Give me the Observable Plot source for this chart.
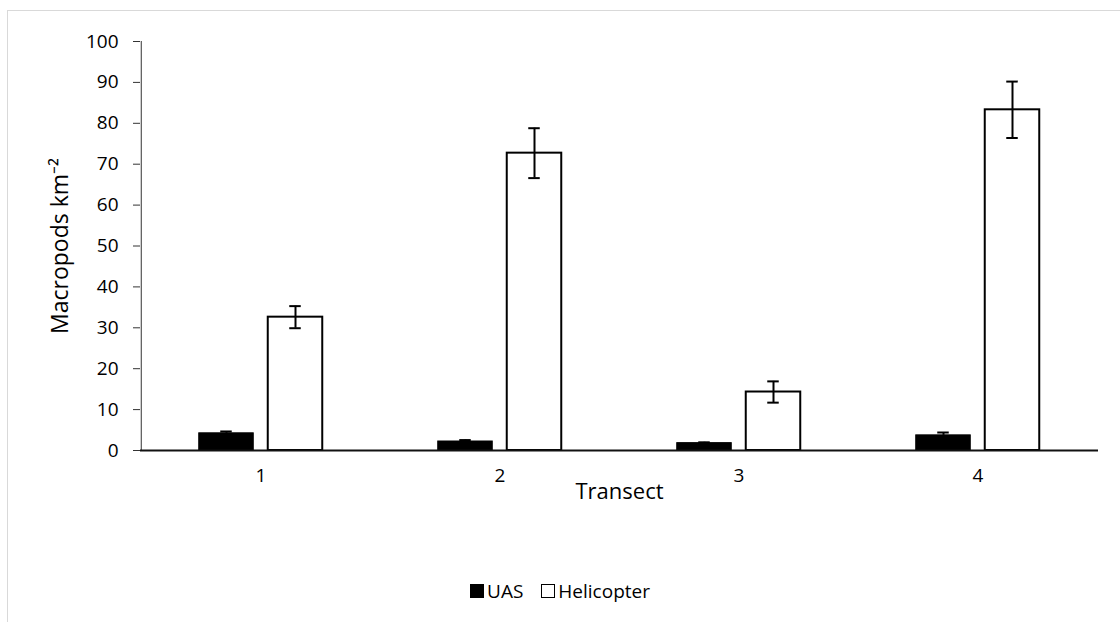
<!DOCTYPE html>
<html>
<head>
<meta charset="utf-8">
<script src="https://cdn.jsdelivr.net/npm/d3@7"></script>
<script src="https://cdn.jsdelivr.net/npm/@observablehq/plot@0.6"></script>
<style>
  body { margin: 0; background: #fff; }
  #wrap { position: relative; width: 1120px; height: 622px; overflow: hidden; font-family: "Open Sans", sans-serif; }
  #border { position: absolute; left: 7px; top: 10px; width: 1300px; height: 800px; border: 1px solid #d9d9d9; box-sizing: border-box; }
  #chart { position: absolute; left: 0; top: 0; }
  #legend { position: absolute; left: 0; width: 1120px; top: 578px; display: flex; justify-content: center; align-items: center; font-size: 19px; color: #000; }
  .item { display: flex; align-items: center; margin: 0 9px; }
  .sw { width: 14px; height: 14px; box-sizing: border-box; margin-right: 3px; border: 1px solid #000; }
</style>
</head>
<body>
<div id="wrap">
  <div id="border"></div>
  <div id="chart"></div>
  <div id="legend"></div>
</div>
<script>
// Data
const transects = ["1", "2", "3", "4"];
const series = ["UAS", "Helicopter"];
const uasValues = [4.2, 2.2, 1.8, 3.7];
const uasErrors = [0.45, 0.35, 0.2, 0.7];
const heliValues = [32.6, 72.7, 14.3, 83.3];
const heliErrors = [2.7, 6.1, 2.6, 6.9];
const yTicks = [0, 10, 20, 30, 40, 50, 60, 70, 80, 90, 100];

const uasData = transects.map((t, i) => ({transect: t, value: uasValues[i], err: uasErrors[i]}));
const heliData = transects.map((t, i) => ({transect: t, value: heliValues[i], err: heliErrors[i]}));

// Layout
const W = 1120, H = 525;
const mL = 140, mR = 22, mT = 41, mB = H - 450;
const bw = (W - mL - mR) / transects.length; // band width
const barW = 55, gap = 14;
const uasC = bw / 2 - (barW + gap) / 2;   // centre of UAS bar inside band
const heliC = bw / 2 + (barW + gap) / 2;  // centre of Helicopter bar
const capW = 12;

const chart = Plot.plot({
  width: W,
  height: H,
  marginLeft: mL,
  marginRight: mR,
  marginTop: mT,
  marginBottom: mB,
  style: {fontFamily: "'Open Sans', sans-serif", fontSize: "19px", color: "#000", background: "transparent"},
  x: {domain: transects, padding: 0, label: null},
  y: {domain: [0, 100], label: null},
  marks: [
    Plot.axisY({ticks: yTicks, tickSize: 7, tickPadding: 15, label: null, stroke: "#333", fontSize: 19, fill: "#000"}),
    Plot.axisX({tickSize: 0, tickPadding: 18, label: null, fontSize: 19, fill: "#000"}),
    // y axis line
    Plot.ruleX(["1"], {x: d => d, y1: 0, y2: 100, dx: -bw / 2, stroke: "#333", strokeWidth: 1}),
    // bars
    Plot.barY(uasData, {x: "transect", y: "value", fill: "#000", stroke: "#000", strokeWidth: 1,
      insetLeft: uasC - barW / 2, insetRight: bw - (uasC + barW / 2)}),
    Plot.barY(heliData, {x: "transect", y: "value", fill: "#fff", stroke: "#000", strokeWidth: 2,
      insetLeft: heliC - barW / 2, insetRight: bw - (heliC + barW / 2)}),
    // baseline
    Plot.ruleY([0], {stroke: "#111", strokeWidth: 2}),
    // error bars
    Plot.ruleX(uasData, {x: "transect", y1: d => d.value, y2: d => d.value + d.err, dx: uasC - bw / 2, stroke: "#000", strokeWidth: 2}),
    Plot.tickY(uasData, {x: "transect", y: d => d.value + d.err, stroke: "#000", strokeWidth: 2,
      insetLeft: uasC - capW / 2, insetRight: bw - (uasC + capW / 2)}),
    Plot.ruleX(heliData, {x: "transect", y1: d => d.value - d.err, y2: d => d.value + d.err, dx: heliC - bw / 2, stroke: "#000", strokeWidth: 2}),
    Plot.tickY(heliData, {x: "transect", y: d => d.value + d.err, stroke: "#000", strokeWidth: 2,
      insetLeft: heliC - capW / 2, insetRight: bw - (heliC + capW / 2)}),
    Plot.tickY(heliData, {x: "transect", y: d => d.value - d.err, stroke: "#000", strokeWidth: 2,
      insetLeft: heliC - capW / 2, insetRight: bw - (heliC + capW / 2)}),
    // axis titles
    Plot.text(["Macropods km⁻²"], {frameAnchor: "left", textAnchor: "middle", dx: -80, rotate: -90, fontSize: 23, fill: "#000"}),
    Plot.text(["Transect"], {frameAnchor: "bottom", textAnchor: "middle", dy: 48, fontSize: 22, fill: "#000"})
  ]
});
document.getElementById("chart").appendChild(chart);

// Legend
const legend = document.getElementById("legend");
series.forEach((s, i) => {
  const item = document.createElement("div");
  item.className = "item";
  const sw = document.createElement("div");
  sw.className = "sw";
  sw.style.background = i === 0 ? "#000" : "#fff";
  const label = document.createElement("span");
  label.textContent = s;
  item.appendChild(sw);
  item.appendChild(label);
  legend.appendChild(item);
});
</script>
</body>
</html>
